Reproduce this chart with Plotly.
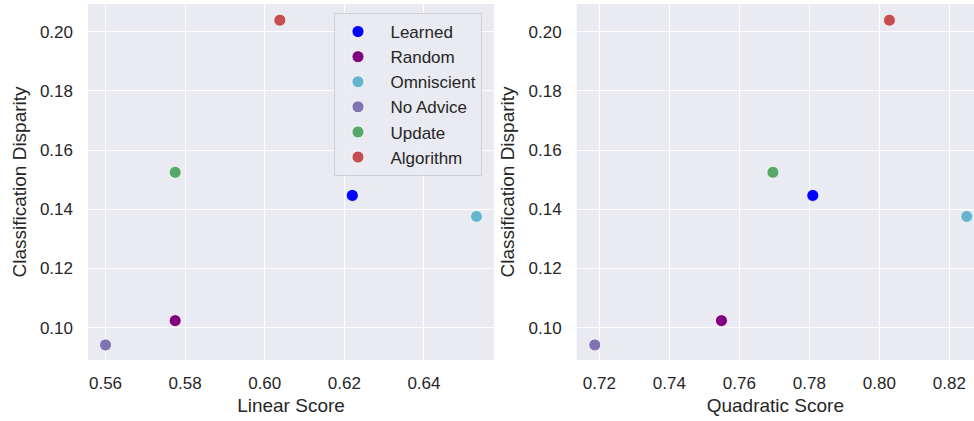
import plotly.graph_objects as go

methods = ["Learned", "Random", "Omniscient", "No Advice", "Update", "Algorithm"]
colors = ["#0000ff", "#800080", "#64B5CD", "#8172B3", "#55A868", "#C44E52"]
linear_score = [0.6220, 0.5775, 0.6532, 0.5600, 0.5775, 0.6038]
quadratic_score = [0.7810, 0.7549, 0.8250, 0.7187, 0.7696, 0.8029]
disparity = [0.1447, 0.1024, 0.1376, 0.0942, 0.1525, 0.2039]

W, H = 974, 421
fig = go.Figure()
for i, m in enumerate(methods):
    fig.add_trace(go.Scatter(
        x=[linear_score[i]], y=[disparity[i]], mode="markers",
        name="\u00a0\u00a0" + m,
        marker=dict(color=colors[i], size=12, line=dict(color="white", width=0.8)),
        xaxis="x", yaxis="y", showlegend=True))
    fig.add_trace(go.Scatter(
        x=[quadratic_score[i]], y=[disparity[i]], mode="markers", name=m,
        marker=dict(color=colors[i], size=12, line=dict(color="white", width=0.8)),
        xaxis="x2", yaxis="y2", showlegend=False))

txt = "#262626"
font = "Liberation Sans, Arial, sans-serif"
ydom = [1 - 360 / H, 1 - 4 / H]
common = dict(showgrid=True, gridcolor="white", gridwidth=1.3, zeroline=False,
              showline=False, ticks="", tickfont=dict(size=17, color=txt, family=font),
              automargin=False, dtick=0.02, tickformat=".2f")
tfont = dict(size=19, color=txt, family=font)
fig.update_layout(
    width=W, height=H, margin=dict(l=0, r=0, t=0, b=0),
    paper_bgcolor="white", plot_bgcolor="#EAEAF2",
    font=dict(family=font, color=txt),
    xaxis=dict(domain=[88 / W, 494 / W], range=[0.5556, 0.6576], tick0=0.56,
               title=dict(text="Linear Score", font=tfont, standoff=6),
               ticklabelstandoff=11, anchor="y", **common),
    yaxis=dict(domain=ydom, range=[0.0891, 0.20936], tick0=0.10,
               title=dict(text="Classification Disparity", font=tfont, standoff=8),
               ticklabelstandoff=14, anchor="x", **common),
    xaxis2=dict(domain=[576.7 / W, 1.0], range=[0.71354, 0.82706], tick0=0.72,
                title=dict(text="Quadratic Score", font=tfont, standoff=6),
                ticklabelstandoff=11, anchor="y2", **common),
    yaxis2=dict(domain=ydom, range=[0.0891, 0.20936], tick0=0.10,
                title=dict(text="Classification Disparity", font=tfont, standoff=8),
                ticklabelstandoff=14, anchor="x2", **common),
    legend=dict(x=334 / W, y=1 - 13 / H, xanchor="left", yanchor="top",
                bgcolor="rgba(234,234,242,0.85)", bordercolor="#d0d0d8", borderwidth=1,
                font=dict(size=17, color=txt, family=font), itemwidth=36),
)
fig.write_html("out.html", config={"displayModeBar": False},
               post_script="document.body.style.margin='0';document.body.style.overflow='hidden';")
